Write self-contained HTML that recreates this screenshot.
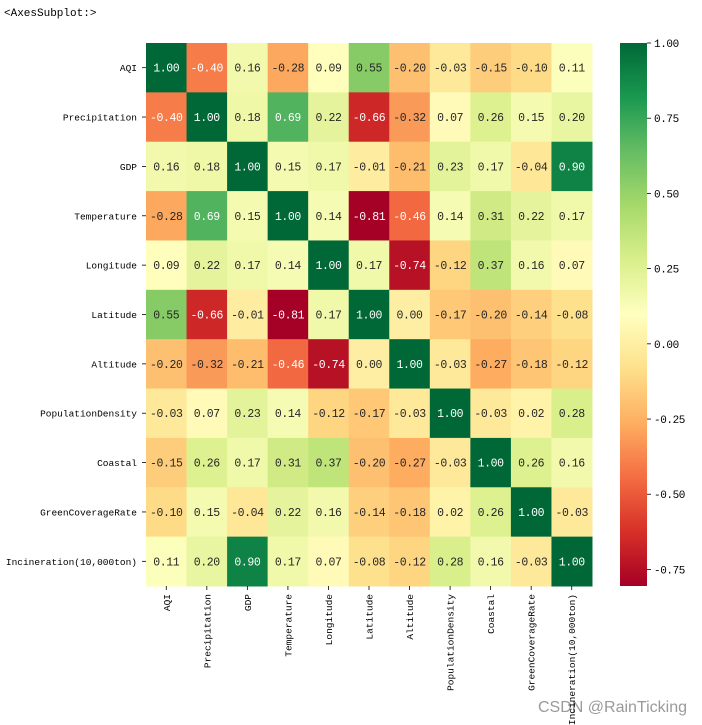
<!DOCTYPE html>
<html><head><meta charset="utf-8"><style>
body{margin:0;background:#fff;width:702px;height:725px;overflow:hidden}
svg{display:block}
text{font-family:"Liberation Mono","WenQuanYi Zen Hei",monospace}
</style></head><body>
<svg id="c" width="702" height="725" xmlns="http://www.w3.org/2000/svg">
<text x="4" y="16" font-size="11" fill="#000">&lt;AxesSubplot:&gt;</text>
<text x="538" y="712" style="font-family:'Liberation Sans',sans-serif;font-size:16px" fill="#9a9a9a">CSDN @RainTicking</text>
</svg>
<script>
const labels=["AQI","Precipitation","GDP","Temperature","Longitude","Latitude","Altitude","PopulationDensity","Coastal","GreenCoverageRate","Incineration(10,000ton)"];
const r0=[1.00,-0.40,0.16,-0.28,0.09,0.55,-0.20,-0.03,-0.15,-0.10,0.11];
const r1=[-0.40,1.00,0.18,0.69,0.22,-0.66,-0.32,0.07,0.26,0.15,0.20];
const r2=[0.16,0.18,1.00,0.15,0.17,-0.01,-0.21,0.23,0.17,-0.04,0.90];
const r3=[-0.28,0.69,0.15,1.00,0.14,-0.81,-0.46,0.14,0.31,0.22,0.17];
const r4=[0.09,0.22,0.17,0.14,1.00,0.17,-0.74,-0.12,0.37,0.16,0.07];
const r5=[0.55,-0.66,-0.01,-0.81,0.17,1.00,0.00,-0.17,-0.20,-0.14,-0.08];
const r6=[-0.20,-0.32,-0.21,-0.46,-0.74,0.00,1.00,-0.03,-0.27,-0.18,-0.12];
const r7=[-0.03,0.07,0.23,0.14,-0.12,-0.17,-0.03,1.00,-0.03,0.02,0.28];
const r8=[-0.15,0.26,0.17,0.31,0.37,-0.20,-0.27,-0.03,1.00,0.26,0.16];
const r9=[-0.10,0.15,-0.04,0.22,0.16,-0.14,-0.18,0.02,0.26,1.00,-0.03];
const r10=[0.11,0.20,0.90,0.17,0.07,-0.08,-0.12,0.28,0.16,-0.03,1.00];
const matrix=[r0,r1,r2,r3,r4,r5,r6,r7,r8,r9,r10];
const cbTicks=[1.00,0.75,0.50,0.25,0.00,-0.25,-0.50,-0.75];
const vmin=-0.805,vmax=1.0;

const NS="http://www.w3.org/2000/svg";
const svg=document.getElementById('c');
const X0=146,X1=592,Y0=43,Y1=586;
const n=labels.length,cw=(X1-X0)/n,ch=(Y1-Y0)/n;
const xPos=i=>X0+i*cw, yPos=i=>Y0+i*ch;
const anchors=["#a50026","#d73027","#f46d43","#fdae61","#fee08b","#ffffbf","#d9ef8b","#a6d96a","#66bd63","#1a9850","#006837"].map(h=>[1,3,5].map(k=>parseInt(h.substr(k,2),16)));
function cmap(v){let t=(v-vmin)/(vmax-vmin);t=Math.max(0,Math.min(1,t));const p=t*10,i=Math.min(9,Math.floor(p)),f=p-i;return anchors[i].map((a,k)=>a+(anchors[i+1][k]-a)*f);}
function lum(c){const l=c.map(x=>{x/=255;return x<=0.03928?x/12.92:Math.pow((x+0.055)/1.055,2.4)});return 0.2126*l[0]+0.7152*l[1]+0.0722*l[2];}
function mk(tag,attrs,txt){const e=document.createElementNS(NS,tag);for(const k in attrs)e.setAttribute(k,attrs[k]);if(txt!==undefined)e.textContent=txt;svg.appendChild(e);return e;}
matrix.forEach((row,r)=>row.forEach((v,c)=>{
  const col=cmap(v);
  const rc=mk('rect',{x:xPos(c),y:yPos(r),width:cw+0.5,height:ch+0.5,fill:`rgb(${col.map(Math.round)})`});
  
  
  const t=mk('text',{x:xPos(c)+cw/2,y:yPos(r)+ch/2+4,'font-size':11.5,'letter-spacing':-0.4,'text-anchor':'middle',fill:lum(col)>0.408?'#262626':'#fff'},v.toFixed(2));
  
  
}));
labels.forEach((l,i)=>{
  const yt=mk('text',{x:137,y:yPos(i)+ch/2+3.5,'font-size':9.5,'text-anchor':'end',fill:'#000'},l);
  
  
  mk('line',{x1:142,x2:146,y1:yPos(i)+ch/2,y2:yPos(i)+ch/2,stroke:'#000','stroke-width':0.8});
  const cx=xPos(i)+cw/2;
  mk('line',{x1:cx,x2:cx,y1:Y1,y2:Y1+4,stroke:'#000','stroke-width':0.8});
  const xt=mk('text',{x:0,y:0,'font-size':9.5,'text-anchor':'end',fill:'#000',transform:`translate(${cx+3.5},${Y1+8}) rotate(-90)`},l);
  
  
});
const CX0=620,CX1=647;
const cbY=v=>Y0+(vmax-v)/(vmax-vmin)*(Y1-Y0);
const defs=mk('defs',{});
const g=document.createElementNS(NS,'linearGradient');g.setAttribute('id','cg');g.setAttribute('x1',0);g.setAttribute('y1',0);g.setAttribute('x2',0);g.setAttribute('y2',1);defs.appendChild(g);
for(let k=0;k<=20;k++){const v=vmax-(vmax-vmin)*k/20;const s=document.createElementNS(NS,'stop');s.setAttribute('offset',k/20);s.setAttribute('stop-color',`rgb(${cmap(v).map(Math.round)})`);g.appendChild(s);}
const cb=mk('rect',{x:CX0,y:Y0,width:CX1-CX0,height:Y1-Y0,fill:'url(#cg)'});


cbTicks.forEach(v=>{
  const y=cbY(v);
  mk('line',{x1:CX1,x2:CX1+4,y1:y,y2:y,stroke:'#000','stroke-width':0.8});
  const t=mk('text',{x:CX1+7,y:y+4,'font-size':11,'letter-spacing':-0.4,fill:'#000'},v.toFixed(2));
  
  
});
</script>
</body></html>
